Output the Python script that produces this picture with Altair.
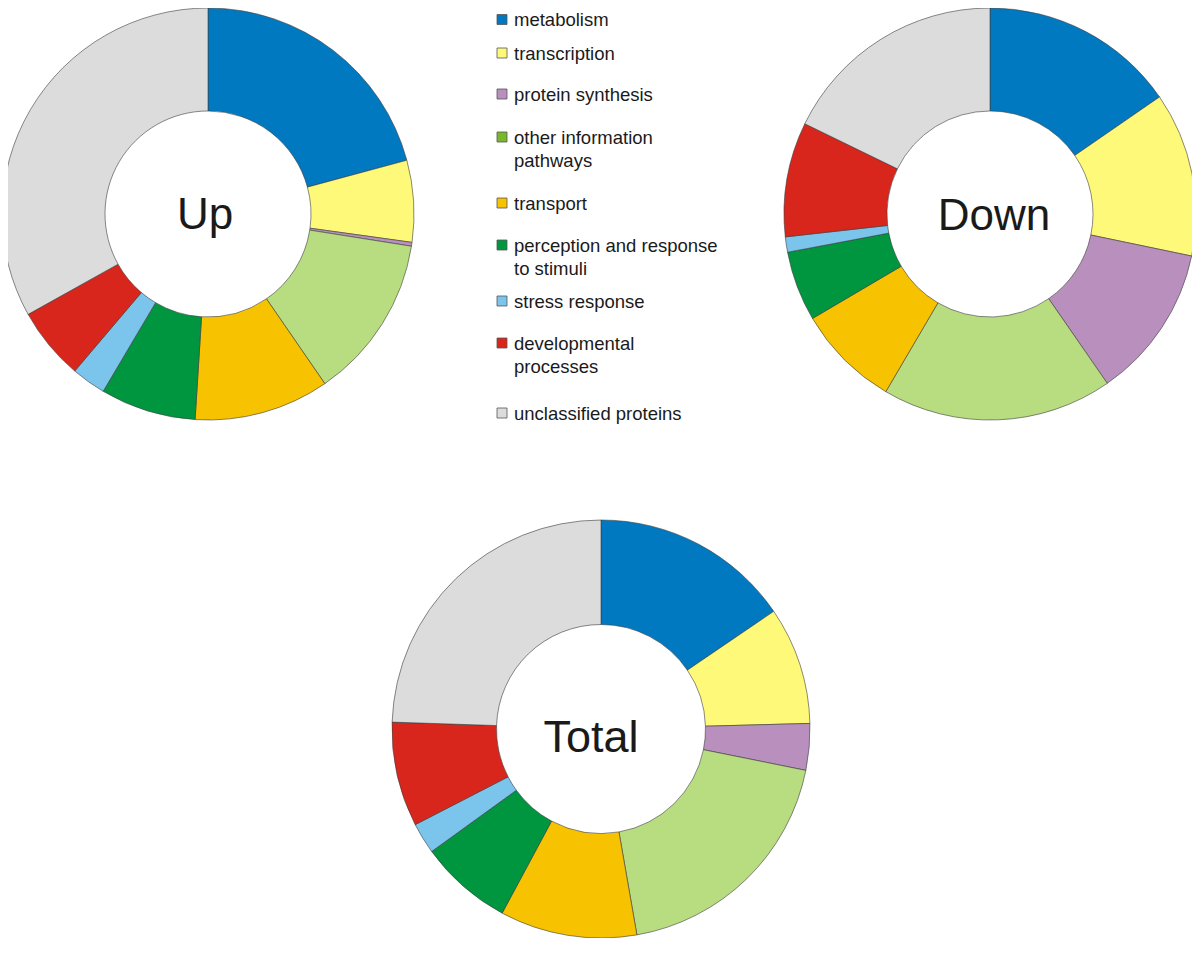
import altair as alt
import pandas as pd

# ---- data ----
categories = [
    "metabolism", "transcription", "protein synthesis",
    "other information pathways", "transport",
    "perception and response to stimuli", "stress response",
    "developmental processes", "unclassified proteins",
]
legend_labels = [
    "metabolism", "transcription", "protein synthesis",
    "other information\npathways", "transport",
    "perception and response\nto stimuli", "stress response",
    "developmental\nprocesses", "unclassified proteins",
]
pie_titles = ["Up", "Down", "Total"]
up_values = [20.8, 6.4, 0.3, 12.9, 10.6, 7.5, 2.7, 5.7, 33.1]
down_values = [15.4, 12.9, 12.1, 18.1, 8.1, 5.5, 1.2, 9.0, 17.8]
total_values = [15.5, 9.1, 3.6, 19.1, 10.6, 7.2, 2.4, 8.1, 24.5]

# ---- styles ----
slice_colors = ["#0079c1", "#fff97a", "#b88fbd", "#b8dc80", "#f7c200",
                "#009640", "#7bc4ec", "#d9261c", "#dcdcdc"]
legend_colors = ["#0079c1", "#fff97a", "#b88fbd", "#78b82a", "#f7c200",
                 "#009640", "#7bc4ec", "#d9261c", "#dcdcdc"]
FONT = "Liberation Sans"
TXT = "#1a1a1a"

# ---- layout (pixels in the chart area) ----
legend_row_y = [11.5, 45, 86, 129, 195, 237, 293, 335, 405]
legend_sq_x = 494
legend_txt_x = 506


def donut(values, cx, cy, r):
    df = pd.DataFrame({"category": categories, "value": values,
                       "order": list(range(len(categories)))})
    return alt.Chart(df).mark_arc(
        outerRadius=r, innerRadius=r * 0.5,
        stroke="#3c3c3c", strokeWidth=0.6,
    ).encode(
        theta=alt.Theta("value:Q", stack=True),
        order=alt.Order("order:Q", sort="ascending"),
        color=alt.Color("category:N",
                        scale=alt.Scale(domain=categories, range=slice_colors),
                        legend=None),
        x=alt.value(cx), y=alt.value(cy),
    )


def center_text(title, x, y, size):
    return alt.Chart(pd.DataFrame({"t": [title]})).mark_text(
        font=FONT, fontSize=size, align="center", baseline="alphabetic", color=TXT,
    ).encode(text="t:N", x=alt.value(x), y=alt.value(y))


up = donut(up_values, 200, 206, 206)
down = donut(down_values, 982, 206, 206)
total = donut(total_values, 593, 721, 209)

up_t = center_text(pie_titles[0], 197, 221, 44)
down_t = center_text(pie_titles[1], 986, 222, 44)
total_t = center_text(pie_titles[2], 583, 744, 45)

leg_df = pd.DataFrame({
    "label": legend_labels,
    "swatch": legend_colors,
    "ly": legend_row_y,
})
leg_df["ty"] = [v + 6.5 for v in legend_row_y]

leg_sq = alt.Chart(leg_df).mark_square(
    size=100, stroke="#555555", strokeWidth=0.8, opacity=1,
).encode(
    x=alt.value(legend_sq_x),
    y=alt.Y("ly:Q", scale=None),
    color=alt.Color("swatch:N", scale=None, legend=None),
)
leg_txt = alt.Chart(leg_df).mark_text(
    font=FONT, fontSize=18.5, align="left", baseline="alphabetic",
    color=TXT, lineBreak="\n", lineHeight=23.5,
).encode(
    x=alt.value(legend_txt_x),
    y=alt.Y("ty:Q", scale=None),
    text="label:N",
)

chart = alt.layer(
    up, down, total, up_t, down_t, total_t, leg_sq, leg_txt
).resolve_scale(
    theta="independent"
).properties(
    width=1184, height=930, padding=0,
    autosize=alt.AutoSizeParams(type="none"),
).configure_view(stroke=None)

chart.save("out.html", embed_options={"renderer": "svg", "actions": False})
